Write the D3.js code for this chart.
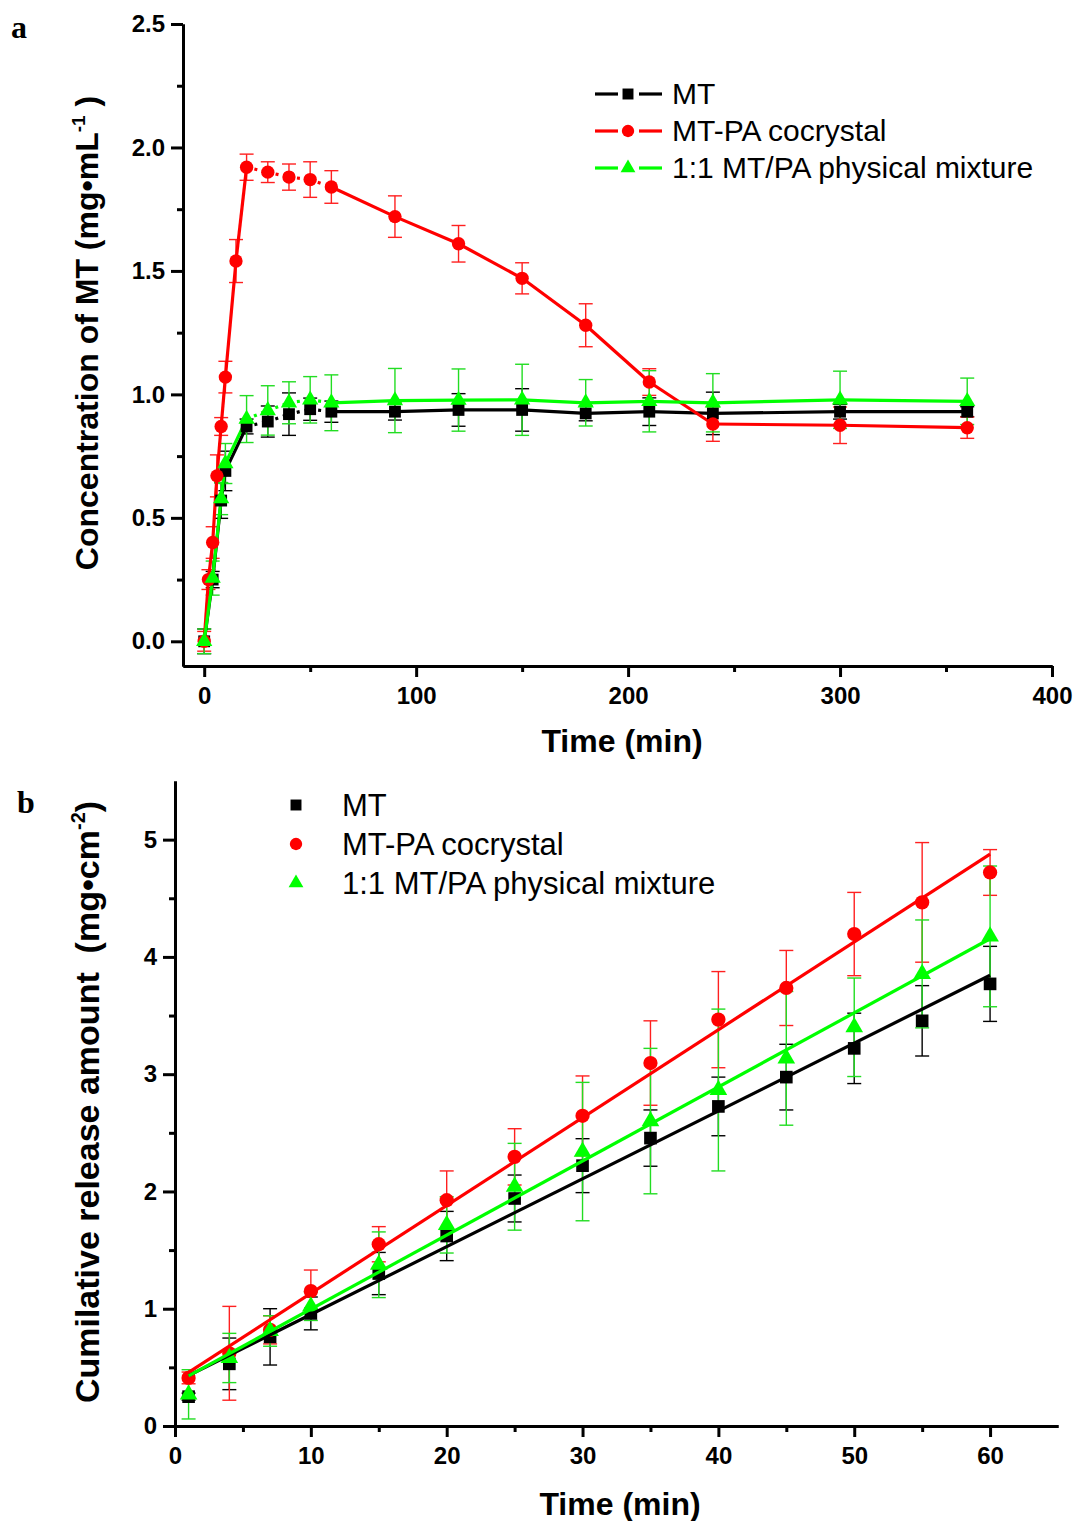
<!DOCTYPE html>
<html lang="en">
<head>
  <meta charset="UTF-8">
  <title>MT dissolution / release</title>
  <style>
    *{box-sizing:border-box;margin:0;padding:0}
    body{background:#fff;width:1077px;height:1521px;overflow:hidden}
    svg{display:block}
    .tick text{font-family:'Liberation Sans',Arial,sans-serif;font-weight:bold;font-size:24px;fill:#000}
    .domain,.tick line{stroke:#000;stroke-width:3}
    .title{font-family:'Liberation Sans',Arial,sans-serif;font-weight:bold;font-size:32px;fill:#000}
    .legend{font-family:'Liberation Sans',Arial,sans-serif;font-size:30px;fill:#000}
    .panel{font-family:'Liberation Serif','Times New Roman',serif;font-weight:bold;font-size:32px;fill:#000}
  </style>
  <script src="https://cdn.jsdelivr.net/npm/d3@7/dist/d3.min.js"></script>
</head>
<body>
<div id="chart"></div>
<script>
/* ---------- DATA : panel a (dissolution, mg/mL) ---------- */
const timeA_MT = [0,4,8,10,20,30,40,50,60,90,120,150,180,210,240,300,360];
const concA_MT = [0.00,0.25,0.57,0.69,0.87,0.89,0.92,0.94,0.93,0.93,0.937,0.937,0.923,0.93,0.923,0.93,0.93];
const errA_MT  = [0.05,0.033,0.072,0.08,0.03,0.063,0.086,0.045,0.043,0.034,0.066,0.086,0.03,0.056,0.086,0.03,0.02];

const timeA_CC = [0,2,4,6,8,10,15,20,30,40,50,60,90,120,150,180,210,240,300,360];
const concA_CC = [0.00,0.25,0.40,0.67,0.87,1.07,1.54,1.92,1.90,1.88,1.87,1.84,1.72,1.61,1.47,1.28,1.05,0.88,0.875,0.865];
const errA_CC  = [0.04,0.04,0.064,0.085,0.036,0.064,0.087,0.053,0.042,0.053,0.072,0.066,0.084,0.074,0.063,0.087,0.054,0.07,0.074,0.043];

const timeA_PM = [0,4,8,10,20,30,40,50,60,90,120,150,180,210,240,300,360];
const concA_PM = [0.00,0.256,0.578,0.72,0.90,0.935,0.966,0.978,0.966,0.975,0.977,0.978,0.966,0.972,0.966,0.978,0.972];
const errA_PM  = [0.05,0.069,0.065,0.081,0.095,0.10,0.085,0.094,0.113,0.13,0.126,0.144,0.094,0.124,0.118,0.116,0.094];

/* ---------- DATA : panel b (cumulative release, mg/cm2) ---------- */
const timeB    = [1,4,7,10,15,20,25,30,35,40,45,50,55,60];
const relB_MT  = [0.25,0.53,0.76,0.96,1.30,1.62,1.94,2.22,2.455,2.725,2.975,3.22,3.455,3.77];
const errB_MT  = [0.03,0.22,0.24,0.14,0.18,0.21,0.20,0.23,0.24,0.25,0.28,0.30,0.30,0.32];
const relB_CC  = [0.41,0.62,0.82,1.15,1.55,1.925,2.295,2.645,3.095,3.465,3.735,4.195,4.465,4.72];
const errB_CC  = [0.05,0.40,0.12,0.18,0.15,0.25,0.24,0.34,0.36,0.41,0.32,0.355,0.51,0.195];
const relB_PM  = [0.27,0.58,0.81,1.02,1.375,1.715,2.04,2.34,2.60,2.865,3.135,3.40,3.855,4.175];
const errB_PM  = [0.21,0.21,0.13,0.12,0.28,0.24,0.37,0.59,0.62,0.69,0.57,0.42,0.46,0.60];

/* ---------- LABELS ---------- */
const seriesNames = ['MT','MT-PA cocrystal','1:1 MT/PA physical mixture'];
const seriesColors = ['#000000','#ff0000','#00ff00'];
const errColors = ['#000000','#ff2020','#22dd22'];
const seriesShapes = [d3.symbolSquare,d3.symbolCircle,d3.symbolTriangle];
const shapeSizes = [140,140,115];

const svg = d3.select('#chart').append('svg').attr('width',1077).attr('height',1521);

/* ---------- HELPERS ---------- */
const zip = (t,v,e)=>t.map((d,i)=>({t:d,v:v[i],e:e[i]}));

function drawAxes(g,x,y,xMajor,xMinor,yMajor,yMinor,yFmt){
  g.append('g').attr('transform',`translate(0,${y.range()[0]})`)
    .call(d3.axisBottom(x).tickValues(xMinor).tickSize(6).tickSizeOuter(0).tickFormat(''));
  g.append('g').attr('transform',`translate(0,${y.range()[0]})`)
    .call(d3.axisBottom(x).tickValues(xMajor).tickSize(11).tickSizeOuter(0).tickPadding(10));
  g.append('g').attr('transform',`translate(${x.range()[0]},0)`)
    .call(d3.axisLeft(y).tickValues(yMinor).tickSize(6).tickSizeOuter(0).tickFormat(''));
  g.append('g').attr('transform',`translate(${x.range()[0]},0)`)
    .call(d3.axisLeft(y).tickValues(yMajor).tickSize(12).tickSizeOuter(0).tickPadding(6).tickFormat(yFmt));
  g.selectAll('.domain').attr('stroke-width',3);
}

function drawErr(g,pts,x,y,color){
  const cap=7;
  const eg=g.append('g').attr('stroke',color).attr('stroke-width',1.4).attr('fill','none');
  pts.forEach(p=>{
    const cx=x(p.t),y1=y(p.v+p.e),y2=y(p.v-p.e);
    eg.append('line').attr('x1',cx).attr('x2',cx).attr('y1',y1).attr('y2',y2);
    eg.append('line').attr('x1',cx-cap).attr('x2',cx+cap).attr('y1',y1).attr('y2',y1);
    eg.append('line').attr('x1',cx-cap).attr('x2',cx+cap).attr('y1',y2).attr('y2',y2);
  });
}

function drawMarkers(g,pts,x,y,i,extra){
  g.append('g').selectAll('path').data(pts).enter().append('path')
    .attr('d',d3.symbol().type(seriesShapes[i]).size(shapeSizes[i]+(extra||0)))
    .attr('transform',d=>`translate(${x(d.t)},${y(d.v)})`)
    .attr('fill',seriesColors[i]);
}

/* ================== PANEL a ================== */
const xA=d3.scaleLinear().domain([-10,400]).range([183,1052]);
const yA=d3.scaleLinear().domain([-0.1,2.5]).range([666,24]);
const gA=svg.append('g');
drawAxes(gA,xA,yA,[0,100,200,300,400],[50,150,250,350],[0,0.5,1,1.5,2,2.5],[0.25,0.75,1.25,1.75,2.25],d3.format('.1f'));

const seriesA=[zip(timeA_MT,concA_MT,errA_MT),zip(timeA_CC,concA_CC,errA_CC),zip(timeA_PM,concA_PM,errA_PM)];
seriesA.forEach((pts,i)=>drawErr(gA,pts,xA,yA,errColors[i]));
// lines drawn segment by segment: 20-60 min looks dotted in the original
seriesA.forEach((pts,i)=>{
  const lg=gA.append('g').attr('stroke',seriesColors[i]).attr('stroke-width',3.2).attr('fill','none');
  for(let k=1;k<pts.length;k++){
    const a=pts[k-1],b=pts[k];
    const dotted=a.t>=20&&b.t<=60;
    lg.append('line').attr('x1',xA(a.t)).attr('y1',yA(a.v)).attr('x2',xA(b.t)).attr('y2',yA(b.v))
      .attr('stroke-dasharray',dotted?'3,5':null);
  }
});
[0,1,2].forEach(i=>drawMarkers(gA,seriesA[i],xA,yA,i));

/* legend a : line - marker - line */
const legA=svg.append('g');
seriesNames.forEach((n,i)=>{
  const yy=94+i*37;
  [[595,618],[639,662]].forEach(s=>legA.append('line').attr('x1',s[0]).attr('x2',s[1]).attr('y1',yy).attr('y2',yy)
      .attr('stroke',seriesColors[i]).attr('stroke-width',3.2));
  legA.append('path').attr('d',d3.symbol().type(seriesShapes[i]).size(shapeSizes[i]-20)())
      .attr('transform',`translate(628,${yy})`).attr('fill',seriesColors[i]);
  legA.append('text').attr('class','legend').attr('x',672).attr('y',yy+10).text(n);
});

/* titles a */
svg.append('text').attr('class','title').attr('x',622).attr('y',752).attr('text-anchor','middle').text('Time (min)');
const ytA=svg.append('text').attr('class','title').attr('text-anchor','middle')
  .attr('transform','translate(98,333) rotate(-90)');
ytA.append('tspan').text('Concentration of MT (mg•mL');
ytA.append('tspan').attr('dy',-13).style('font-size','19px').text('-1');
ytA.append('tspan').attr('dy',13).text(' )');
svg.append('text').attr('class','panel').attr('x',11).attr('y',38).text('a');

/* ================== PANEL b ================== */
const xB=d3.scaleLinear().domain([0,65]).range([175,1058]);
const yB=d3.scaleLinear().domain([0,5.5]).range([1426,781]);
const gB=svg.append('g');
drawAxes(gB,xB,yB,[0,10,20,30,40,50,60],[5,15,25,35,45,55],[0,1,2,3,4,5],[0.5,1.5,2.5,3.5,4.5],d3.format('d'));

const seriesB=[zip(timeB,relB_MT,errB_MT),zip(timeB,relB_CC,errB_CC),zip(timeB,relB_PM,errB_PM)];
seriesB.forEach((pts,i)=>drawErr(gB,pts,xB,yB,errColors[i]));
[0,1,2].forEach(i=>drawMarkers(gB,seriesB[i],xB,yB,i,20));

/* linear fits (least squares on the points above) */
seriesB.forEach((pts,i)=>{
  const n=pts.length,mt=d3.mean(pts,d=>d.t),mv=d3.mean(pts,d=>d.v);
  const slope=d3.sum(pts,d=>(d.t-mt)*(d.v-mv))/d3.sum(pts,d=>(d.t-mt)**2);
  const icpt=mv-slope*mt;
  const t0=pts[0].t,t1=pts[n-1].t;
  gB.append('line').attr('x1',xB(t0)).attr('y1',yB(icpt+slope*t0))
    .attr('x2',xB(t1)).attr('y2',yB(icpt+slope*t1))
    .attr('stroke',seriesColors[i]).attr('stroke-width',3.2);
});

/* legend b */
const legB=svg.append('g');
seriesNames.forEach((n,i)=>{
  const yy=805+i*39;
  legB.append('path').attr('d',d3.symbol().type(seriesShapes[i]).size(shapeSizes[i]-20)())
      .attr('transform',`translate(296,${yy})`).attr('fill',seriesColors[i]);
  legB.append('text').attr('class','legend').style('font-size','31px').attr('x',342).attr('y',yy+11).text(n);
});

/* titles b */
svg.append('text').attr('class','title').attr('x',620).attr('y',1515).attr('text-anchor','middle').text('Time (min)');
const ytB=svg.append('text').attr('class','title').attr('text-anchor','middle').style('font-size','34px')
  .style('white-space','pre').attr('transform','translate(99,1102) rotate(-90)');
ytB.append('tspan').text('Cumilative release amount  (mg•cm');
ytB.append('tspan').attr('dy',-14).style('font-size','20px').text('-2');
ytB.append('tspan').attr('dy',14).text(')');
svg.append('text').attr('class','panel').attr('x',17).attr('y',813).text('b');
</script>
</body>
</html>
